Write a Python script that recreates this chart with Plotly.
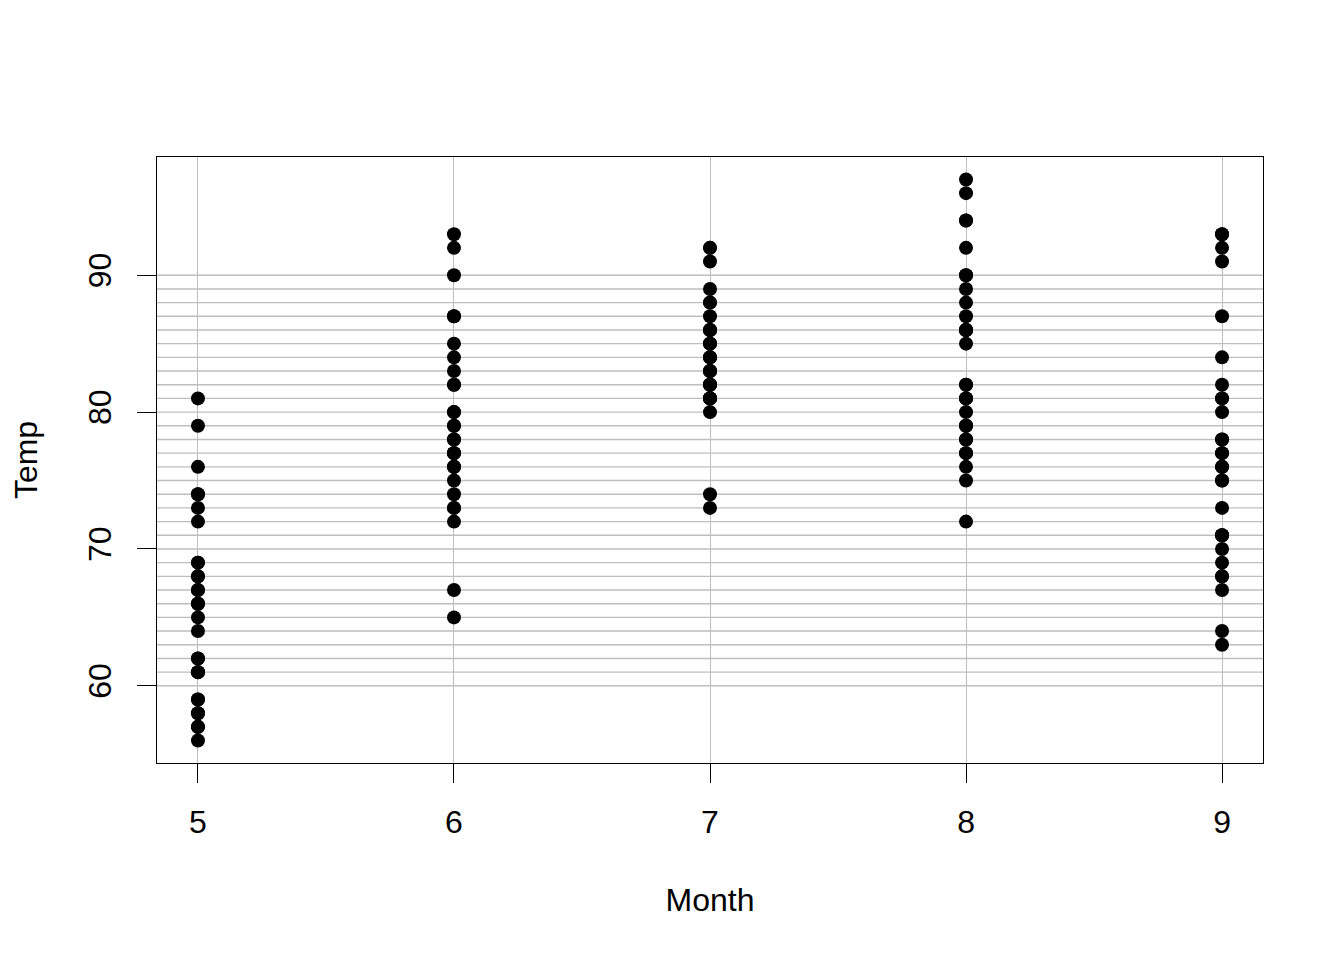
import plotly.graph_objects as go

# airquality: daily temperature by month
may = [67, 72, 74, 62, 56, 66, 65, 59, 61, 69, 74, 69, 66, 68, 58, 64, 66, 57, 68, 62,
       59, 73, 61, 61, 57, 58, 57, 67, 81, 79, 76]
june = [78, 74, 67, 84, 85, 79, 82, 87, 90, 87, 93, 92, 82, 80, 79, 77, 72, 65, 73, 76,
        77, 76, 76, 76, 75, 78, 73, 80, 77, 83]
july = [84, 85, 81, 84, 83, 83, 88, 92, 92, 89, 82, 73, 81, 91, 80, 81, 82, 84, 87, 85,
        74, 81, 82, 86, 85, 82, 86, 88, 86, 83, 81]
august = [81, 81, 82, 86, 85, 87, 89, 90, 90, 92, 86, 86, 82, 80, 79, 77, 79, 76, 78, 78,
          77, 72, 75, 79, 81, 86, 88, 97, 94, 96, 94]
september = [91, 92, 93, 93, 87, 84, 80, 78, 75, 73, 81, 76, 77, 71, 71, 78, 67, 76, 68, 82,
             64, 71, 81, 69, 63, 70, 77, 75, 76, 68]

months = [5, 6, 7, 8, 9]
temps = [may, june, july, august, september]

x_ticks = [5, 6, 7, 8, 9]
y_ticks = [60, 70, 80, 90]
grid_y = list(range(60, 91))

month_col = []
temp_col = []
for m, t in zip(months, temps):
    month_col += [m] * len(t)
    temp_col += t

FONT = "Liberation Sans, Arial, sans-serif"
GRID = "#BEBEBE"
FS = 32

fig = go.Figure()

fig.add_trace(go.Scatter(
    x=month_col, y=temp_col,
    mode="markers",
    marker=dict(size=14, color="black"),
    showlegend=False,
))

# horizontal reference lines (grid at every degree)
for g in grid_y:
    fig.add_hline(y=g, line=dict(color=GRID, width=1.4), layer="below")

ymin, ymax = min(temp_col), max(temp_col)
ypad = (ymax - ymin) * 0.04

# page body has an 8px margin, so the figure is a bit smaller than the window
fig.update_layout(
    width=1328, height=944,
    paper_bgcolor="white", plot_bgcolor="white",
    margin=dict(l=149, r=73, t=149, b=189),
    font=dict(family=FONT, size=FS, color="black"),
    xaxis=dict(
        range=[4.84, 9.16],
        tickvals=x_ticks,
        showgrid=True, gridcolor=GRID, gridwidth=1.4,
        zeroline=False,
        showline=True, linecolor="black", linewidth=1, mirror=True,
        ticks="outside", ticklen=19, tickcolor="black", tickwidth=1,
        ticklabelstandoff=12,
        tickfont=dict(size=FS),
        title=dict(text="Month", standoff=49, font=dict(size=FS)),
    ),
    yaxis=dict(
        range=[ymin - ypad, ymax + ypad],
        tickvals=y_ticks,
        tickangle=-90,
        showgrid=False,
        zeroline=False,
        showline=True, linecolor="black", linewidth=1, mirror=True,
        ticks="outside", ticklen=19, tickcolor="black", tickwidth=1,
        ticklabelstandoff=13,
        tickfont=dict(size=FS),
        title=dict(text="Temp", standoff=40, font=dict(size=FS)),
    ),
)

fig.write_html("out.html")
